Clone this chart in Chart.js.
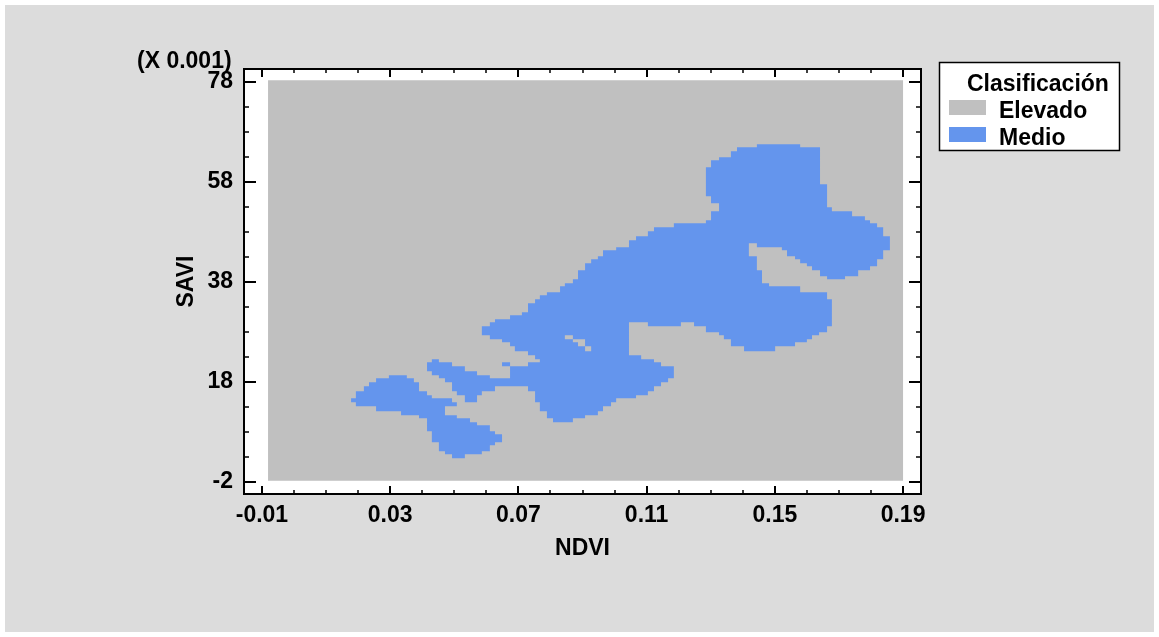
<!DOCTYPE html>
<html>
<head>
<meta charset="utf-8">
<title>Clasificación NDVI / SAVI</title>
<script src="https://cdn.jsdelivr.net/npm/chart.js@4.4.1/dist/chart.umd.min.js"></script>
<style>
  html, body { margin: 0; padding: 0; background: #fff; }
</style>
</head>
<body>
<canvas id="chart" width="1159" height="637"></canvas>
<script>
// Axis ticks
const xTicks = [-0.01, 0.03, 0.07, 0.11, 0.15, 0.19];
const xTickLabels = ['-0.01', '0.03', '0.07', '0.11', '0.15', '0.19'];
const xMinorTicks = [0.00, 0.01, 0.02, 0.04, 0.05, 0.06, 0.08, 0.09, 0.10, 0.12, 0.13, 0.14, 0.16, 0.17, 0.18];
const yTicks = [-2, 18, 38, 58, 78];
const yTickLabels = ['-2', '18', '38', '58', '78'];
const yMinorTicks = [3, 8, 13, 23, 28, 33, 43, 48, 53, 63, 68, 73];

// Classes
const classNames = ['Elevado', 'Medio'];

// Region outlines, [NDVI, SAVI (x 0.001)]
const elevadoArea = [[-0.0081, -1.8], [-0.0081, 78.3], [0.19, 78.3], [0.19, -1.8]];

const medioMain = [
  [0.0586,29.1],[0.0611,29.1],[0.0611,29.9],[0.0627,29.9],[0.0627,30.5],[0.0674,30.5],[0.0674,31.3],[0.0711,31.3],
  [0.0711,31.9],[0.0730,31.9],[0.0730,33.7],[0.0752,33.7],[0.0752,34.5],[0.0767,34.5],[0.0767,35.3],[0.0789,35.3],
  [0.0789,35.9],[0.0830,35.9],[0.0830,37.1],[0.0845,37.1],[0.0845,37.7],[0.0870,37.7],[0.0870,38.5],[0.0886,38.5],
  [0.0886,40.3],[0.0908,40.3],[0.0908,41.7],[0.0927,41.7],[0.0927,42.5],[0.0948,42.5],[0.0948,43.1],[0.0964,43.1],
  [0.0964,44.3],[0.1005,44.3],[0.1005,44.9],[0.1045,44.9],[0.1045,46.3],[0.1067,46.3],[0.1067,47.1],[0.1104,47.1],
  [0.1104,48.1],[0.1123,48.1],[0.1123,48.9],[0.1185,48.9],[0.1185,49.7],[0.1285,49.7],[0.1285,50.3],[0.1301,50.3],
  [0.1301,52.1],[0.1326,52.1],[0.1326,53.7],[0.1301,53.7],[0.1301,55.1],[0.1285,55.1],[0.1285,60.9],[0.1301,60.9],
  [0.1301,62.3],[0.1326,62.3],[0.1326,62.9],[0.1363,62.9],[0.1363,64.1],[0.1382,64.1],[0.1382,64.9],[0.1444,64.9],
  [0.1444,65.5],[0.1579,65.5],[0.1579,64.9],[0.1641,64.9],[0.1641,57.5],[0.1663,57.5],[0.1663,52.9],[0.1678,52.9],
  [0.1678,52.1],[0.1741,52.1],[0.1741,51.1],[0.1781,51.1],[0.1781,50.3],[0.1797,50.3],[0.1797,49.7],[0.1819,49.7],
  [0.1819,48.9],[0.1838,48.9],[0.1838,47.1],[0.1859,47.1],[0.1859,44.3],[0.1838,44.3],[0.1838,42.5],[0.1819,42.5],
  [0.1819,41.1],[0.1797,41.1],[0.1797,40.3],[0.1760,40.3],[0.1760,39.1],[0.1719,39.1],[0.1719,38.5],[0.1663,38.5],
  [0.1663,39.1],[0.1641,39.1],[0.1641,40.3],[0.1616,40.3],[0.1616,41.1],[0.1600,41.1],[0.1600,41.7],[0.1579,41.7],
  [0.1579,42.5],[0.1563,42.5],[0.1563,43.1],[0.1538,43.1],[0.1538,44.3],[0.1522,44.3],[0.1522,44.9],[0.1444,44.9],
  [0.1444,45.7],[0.1419,45.7],[0.1419,43.1],[0.1444,43.1],[0.1444,40.3],[0.1460,40.3],[0.1460,37.7],[0.1482,37.7],
  [0.1482,37.1],[0.1579,37.1],[0.1579,35.9],[0.1663,35.9],[0.1663,34.5],[0.1678,34.5],[0.1678,29.1],[0.1663,29.1],
  [0.1663,27.9],[0.1638,27.9],[0.1638,27.3],[0.1616,27.3],[0.1616,26.5],[0.1600,26.5],[0.1600,25.9],[0.1563,25.9],
  [0.1563,25.1],[0.1501,25.1],[0.1501,24.1],[0.1404,24.1],[0.1404,25.1],[0.1363,25.1],[0.1363,26.5],[0.1341,26.5],
  [0.1341,27.3],[0.1326,27.3],[0.1326,27.9],[0.1285,27.9],[0.1285,29.1],[0.1248,29.1],[0.1248,29.9],[0.1207,29.9],
  [0.1207,29.1],[0.1104,29.1],[0.1104,29.9],[0.1045,29.9],[0.1045,23.3],[0.1083,23.3],[0.1083,22.5],[0.1123,22.5],
  [0.1123,21.9],[0.1145,21.9],[0.1145,21.1],[0.1185,21.1],[0.1185,18.7],[0.1167,18.7],[0.1167,17.9],[0.1145,17.9],
  [0.1145,17.1],[0.1123,17.1],[0.1123,16.1],[0.1104,16.1],[0.1104,15.3],[0.1067,15.3],[0.1067,14.7],[0.1005,14.7],
  [0.1005,13.9],[0.0989,13.9],[0.0989,13.1],[0.0964,13.1],[0.0964,12.1],[0.0948,12.1],[0.0948,11.3],[0.0908,11.3],
  [0.0908,10.7],[0.0870,10.7],[0.0870,9.9],[0.0808,9.9],[0.0808,10.7],[0.0789,10.7],[0.0789,12.1],[0.0767,12.1],
  [0.0767,13.9],[0.0752,13.9],[0.0752,16.1],[0.0730,16.1],[0.0730,17.1],[0.0627,17.1],[0.0627,16.1],[0.0586,16.1],
  [0.0586,15.3],[0.0571,15.3],[0.0571,13.9],[0.0533,13.9],[0.0533,15.3],[0.0508,15.3],[0.0508,16.1],[0.0493,16.1],
  [0.0493,17.9],[0.0471,17.9],[0.0471,18.7],[0.0452,18.7],[0.0452,19.3],[0.0430,19.3],[0.0430,20.1],[0.0415,20.1],
  [0.0415,21.9],[0.0430,21.9],[0.0430,22.5],[0.0452,22.5],[0.0452,21.9],[0.0493,21.9],[0.0493,21.1],[0.0533,21.1],
  [0.0533,20.1],[0.0571,20.1],[0.0571,19.3],[0.0611,19.3],[0.0611,18.7],[0.0674,18.7],[0.0674,21.1],[0.0730,21.1],
  [0.0730,21.9],[0.0767,21.9],[0.0767,22.5],[0.0752,22.5],[0.0752,23.3],[0.0730,23.3],[0.0730,24.1],[0.0689,24.1],
  [0.0689,25.1],[0.0674,25.1],[0.0674,25.9],[0.0649,25.9],[0.0649,26.5],[0.0611,26.5],[0.0611,27.3],[0.0586,27.3]
];

const medioSouthWest = [
  [0.0178,14.7],[0.0193,14.7],[0.0193,16.1],[0.0218,16.1],[0.0218,17.1],[0.0234,17.1],[0.0234,17.9],[0.0256,17.9],
  [0.0256,18.7],[0.0296,18.7],[0.0296,19.3],[0.0352,19.3],[0.0352,18.7],[0.0374,18.7],[0.0374,17.9],[0.0390,17.9],
  [0.0390,16.1],[0.0415,16.1],[0.0415,15.3],[0.0430,15.3],[0.0430,14.7],[0.0493,14.7],[0.0493,13.9],[0.0508,13.9],
  [0.0508,13.1],[0.0471,13.1],[0.0471,11.3],[0.0508,11.3],[0.0508,10.7],[0.0549,10.7],[0.0549,9.9],[0.0571,9.9],
  [0.0571,9.3],[0.0611,9.3],[0.0611,8.1],[0.0627,8.1],[0.0627,7.5],[0.0649,7.5],[0.0649,5.9],[0.0627,5.9],
  [0.0627,5.3],[0.0611,5.3],[0.0611,4.1],[0.0586,4.1],[0.0586,3.5],[0.0533,3.5],[0.0533,2.7],[0.0493,2.7],
  [0.0493,3.5],[0.0471,3.5],[0.0471,4.1],[0.0452,4.1],[0.0452,5.9],[0.0430,5.9],[0.0430,8.1],[0.0415,8.1],
  [0.0415,10.7],[0.0390,10.7],[0.0390,11.3],[0.0334,11.3],[0.0334,12.1],[0.0256,12.1],[0.0256,13.1],[0.0193,13.1],
  [0.0193,13.9],[0.0178,13.9]
];

const medioSpeck = [[0.0649,21.9],[0.0674,21.9],[0.0674,21.1],[0.0649,21.1]];

const elevadoCrack = [
  [0.0845,27.3],[0.0870,27.3],[0.0870,26.5],[0.0908,26.5],[0.0908,25.1],[0.0927,25.1],[0.0927,24.1],
  [0.0908,24.1],[0.0908,25.1],[0.0886,25.1],[0.0886,25.9],[0.0870,25.9],[0.0870,26.5],[0.0845,26.5]
];

// Styles
const classColors = { Elevado: '#c0c0c0', Medio: '#6495ed' };
const FONT_FAMILY = '"Liberation Sans", Arial, Helvetica, sans-serif';
const textFont = { family: FONT_FAMILY, size: 23, weight: 'bold' };

function region(label, points, order) {
  return {
    label: label,
    data: points,
    showLine: true,
    fill: 'shape',
    backgroundColor: classColors[label],
    borderColor: 'rgba(0,0,0,0)',
    borderWidth: 0,
    pointRadius: 0,
    pointHoverRadius: 0,
    order: order
  };
}

// Panel, frame, inward ticks and legend
const framePlugin = {
  id: 'statFrame',
  beforeDraw(chart) {
    const ctx = chart.ctx;
    ctx.save();
    ctx.fillStyle = '#ffffff';
    ctx.fillRect(0, 0, chart.width, chart.height);
    ctx.fillStyle = '#dcdcdc';
    ctx.fillRect(5, 5, chart.width - 10, chart.height - 10);
    ctx.restore();
  },
  beforeDatasetsDraw(chart) {
    const { ctx, chartArea: a } = chart;
    ctx.save();
    ctx.fillStyle = '#ffffff';
    ctx.fillRect(a.left, a.top, a.width, a.height);
    ctx.restore();
  },
  afterDatasetsDraw(chart) {
    const { ctx, chartArea: a, scales } = chart;
    const line = (x1, y1, x2, y2) => {
      ctx.beginPath();
      ctx.moveTo(x1, y1);
      ctx.lineTo(x2, y2);
      ctx.stroke();
    };
    ctx.save();
    ctx.strokeStyle = '#000';
    ctx.lineWidth = 2;
    ctx.strokeRect(a.left, a.top, a.width, a.height);

    const xTick = (v, len) => {
      const px = Math.round(scales.x.getPixelForValue(v));
      line(px, a.bottom, px, a.bottom - len);
      line(px, a.top, px, a.top + len);
    };
    const yTick = (v, len) => {
      const py = Math.round(scales.y.getPixelForValue(v));
      line(a.left, py, a.left + len, py);
      line(a.right, py, a.right - len, py);
    };
    xTicks.forEach(v => xTick(v, 8));
    yTicks.forEach(v => yTick(v, 12));
    ctx.lineWidth = 1.5;
    xMinorTicks.forEach(v => xTick(v, 4));
    yMinorTicks.forEach(v => yTick(v, 5));

    // scale factor label above the Y axis
    ctx.fillStyle = '#000';
    ctx.font = 'bold 23px ' + FONT_FAMILY;
    ctx.textBaseline = 'alphabetic';
    ctx.textAlign = 'left';
    ctx.fillText('(X 0.001)', 137, 68);
    ctx.restore();
  },
  afterDraw(chart) {
    const ctx = chart.ctx;
    ctx.save();
    ctx.fillStyle = '#ffffff';
    ctx.fillRect(939, 62, 180, 88);
    ctx.strokeStyle = '#000';
    ctx.lineWidth = 1.5;
    ctx.strokeRect(939.5, 62.5, 180, 88);
    ctx.fillStyle = '#000';
    ctx.font = 'bold 23px ' + FONT_FAMILY;
    ctx.textBaseline = 'alphabetic';
    ctx.textAlign = 'left';
    ctx.fillText('Clasificación', 967, 91);
    classNames.forEach((name, i) => {
      const top = 100 + i * 27;
      ctx.fillStyle = classColors[name];
      ctx.fillRect(949, top, 37, 15);
      ctx.fillStyle = '#000';
      ctx.fillText(name, 999, top + 18);
    });
    ctx.restore();
  }
};

new Chart(document.getElementById('chart'), {
  type: 'scatter',
  data: {
    datasets: [
      region('Elevado', elevadoArea, 3),
      region('Medio', medioMain, 2),
      region('Medio', medioSouthWest, 2),
      region('Medio', medioSpeck, 2),
      region('Elevado', elevadoCrack, 1)
    ]
  },
  options: {
    responsive: false,
    animation: false,
    events: [],
    layout: { padding: { left: 170, right: 238, top: 69, bottom: 63 } },
    plugins: {
      legend: { display: false },
      tooltip: { enabled: false },
      title: { display: false }
    },
    scales: {
      x: {
        type: 'linear',
        position: 'bottom',
        min: -0.0156,
        max: 0.1956,
        afterBuildTicks: s => { s.ticks = xTicks.map(v => ({ value: v })); },
        afterFit: s => { s.height = 80; },
        grid: { display: false, drawTicks: false },
        border: { display: false },
        ticks: {
          autoSkip: false, maxRotation: 0, minRotation: 0, padding: 8,
          color: '#000', font: textFont,
          callback: (v, i) => xTickLabels[i]
        },
        title: { display: true, text: 'NDVI', color: '#000', font: textFont, padding: { top: 0, bottom: 12 } }
      },
      y: {
        type: 'linear',
        position: 'left',
        min: -4.46,
        max: 80.54,
        afterBuildTicks: s => { s.ticks = yTicks.map(v => ({ value: v })); },
        afterFit: s => { s.width = 74; },
        grid: { display: false, drawTicks: false },
        border: { display: false },
        ticks: {
          autoSkip: false, padding: 11,
          color: '#000', font: textFont,
          callback: (v, i) => yTickLabels[i]
        },
        title: { display: true, text: 'SAVI', color: '#000', font: textFont, padding: { top: 3, bottom: 0 } }
      }
    }
  },
  plugins: [framePlugin]
});
</script>
</body>
</html>
